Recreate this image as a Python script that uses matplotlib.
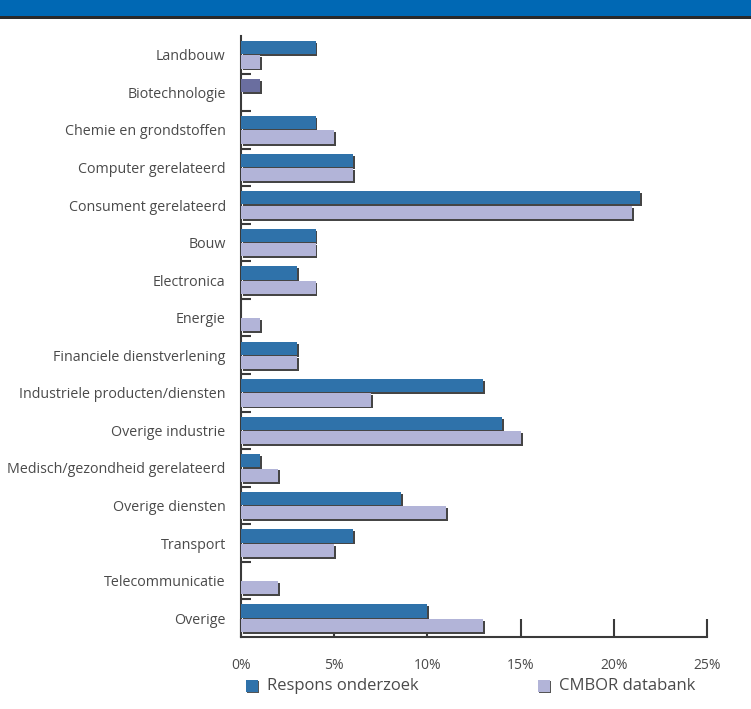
import matplotlib
matplotlib.use("Agg")
import matplotlib.pyplot as plt
import matplotlib.patheffects as pe
from matplotlib.patches import Rectangle
import numpy as np

categories = [
    "Landbouw", "Biotechnologie", "Chemie en grondstoffen", "Computer gerelateerd",
    "Consument gerelateerd", "Bouw", "Electronica", "Energie",
    "Financiele dienstverlening", "Industriele producten/diensten", "Overige industrie",
    "Medisch/gezondheid gerelateerd", "Overige diensten", "Transport",
    "Telecommunicatie", "Overige",
]
respons = [4, 1, 4, 6, 21.4, 4, 3, 0, 3, 13, 14, 1, 8.6, 6, 0, 10]
cmbor = [1, 0, 5, 6, 21, 4, 4, 1, 3, 7, 15, 2, 11, 5, 2, 13]
xticks = [0, 5, 10, 15, 20, 25]
xticklabels = ["0%", "5%", "10%", "15%", "20%", "25%"]
series_names = ["Respons onderzoek", "CMBOR databank"]

BLUE = "#2f72aa"
LAV = "#b2b4d8"
TEXT = "#4a4a4a"
DARK = "#3a3a3a"

plt.rcParams["font.family"] = ["Open Sans", "DejaVu Sans"]

fig = plt.figure(figsize=(7.51, 7.09), dpi=100)
ax = fig.add_axes([0.3209, 0.1016, 0.6205, 0.8476])

y = np.arange(len(categories))
h = 0.35
off = 0.19
shadow = [pe.SimplePatchShadow(offset=(1.4, -1.4), shadow_rgbFace="#454545", alpha=1.0), pe.Normal()]

blue_colors = [BLUE] * len(categories)
blue_colors[1] = "#6a6e9f"

b1 = ax.barh(y - off, respons, height=h, color=blue_colors, linewidth=0, zorder=3)
b2 = ax.barh(y + off, cmbor, height=h, color=LAV, linewidth=0, zorder=3)
for bars in (b1, b2):
    for p in bars:
        if p.get_width() > 0:
            p.set_path_effects(shadow)

ax.set_ylim(15.5, -0.5)
ax.set_xlim(0, 25)
ax.set_yticks(y)
ax.set_yticklabels(categories, fontsize=10.3, color=TEXT)
ax.tick_params(axis="y", which="major", length=0, pad=11)
ax.set_yticks(np.arange(0.5, 15.5, 1), minor=True)
ax.tick_params(axis="y", which="minor", direction="in", length=7, width=1.5, color=DARK)

ax.set_xticks(xticks)
ax.set_xticklabels(xticklabels, fontsize=10, color=TEXT)
ax.tick_params(axis="x", direction="in", length=13, width=1.5, color=DARK, pad=15)

for s in ("top", "right"):
    ax.spines[s].set_visible(False)
for s in ("left", "bottom"):
    ax.spines[s].set_color(DARK)
    ax.spines[s].set_linewidth(1.5)

# header band
fig.add_artist(Rectangle((0, 1 - 16 / 709), 1, 16 / 709, transform=fig.transFigure,
                         facecolor="#0068b4", edgecolor="none"))
fig.add_artist(Rectangle((0, 1 - 18.5 / 709), 1, 2.5 / 709, transform=fig.transFigure,
                         facecolor="#2a2a2a", edgecolor="none"))

# legend
for x0, col, name in ((246, BLUE, series_names[0]), (538, LAV, series_names[1])):
    fig.add_artist(Rectangle((x0 / 751, 1 - 692 / 709), 12 / 751, 12 / 709,
                             transform=fig.transFigure, facecolor=col, edgecolor="none",
                             path_effects=[pe.SimplePatchShadow(offset=(1, -1), shadow_rgbFace="#555", alpha=1), pe.Normal()]))
    fig.text((x0 + 21) / 751, 1 - 686 / 709, name, fontsize=12, color=TEXT,
             va="center", ha="left")

fig.savefig("out.png", dpi=100)
